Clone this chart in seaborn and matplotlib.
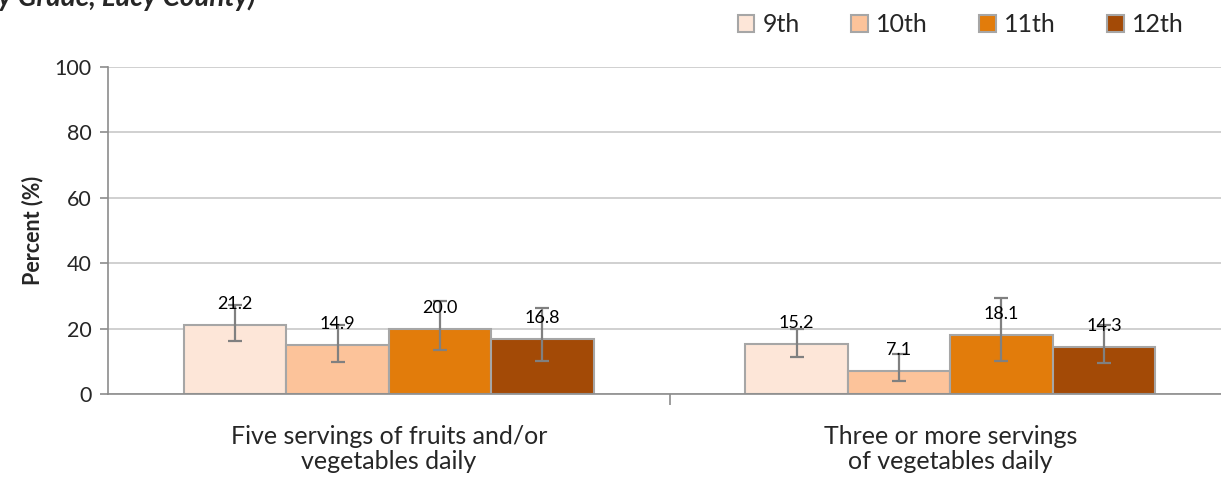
import numpy as np
import pandas as pd
import seaborn as sns
import matplotlib.pyplot as plt
from matplotlib.patches import Patch

# values
categories = ['Five servings of fruits and/or\nvegetables daily',
              'Three or more servings\nof vegetables daily']
grades = ['9th', '10th', '11th', '12th']
pct_five = [21.2, 14.9, 20.0, 16.8]
pct_three = [15.2, 7.1, 18.1, 14.3]
low_five = [16.1, 9.9, 13.4, 10.2]
high_five = [27.2, 21.1, 28.5, 26.2]
low_three = [11.3, 4.1, 10.2, 9.4]
high_three = [19.9, 12.1, 29.5, 21.1]
colors = ['#FDE6D8', '#FCC39A', '#E27C0B', '#A34A06']

df = pd.DataFrame({
    'category': np.repeat(categories, len(grades)),
    'grade': grades * 2,
    'pct': pct_five + pct_three,
    'low': low_five + low_three,
    'high': high_five + high_three,
})

sns.set_style('white')
plt.rcParams['font.family'] = ['Lato', 'DejaVu Sans']

fig = plt.figure(figsize=(12.21, 4.78), dpi=100)
ax = fig.add_axes([108 / 1221, 1 - 394 / 478, 1123 / 1221, (394 - 67) / 478])

sns.barplot(data=df, x='category', y='pct', hue='grade', hue_order=grades,
            palette=colors, saturation=1, width=0.73, errorbar=None,
            edgecolor='#A6A6A6', linewidth=1.5, ax=ax, legend=False, zorder=2)

# error bars and value labels, one container per grade
for cont, g in zip(ax.containers, grades):
    sub = df[df['grade'] == g]
    for bar, (_, row) in zip(cont, sub.iterrows()):
        xc = bar.get_x() + bar.get_width() / 2
        ax.errorbar(xc, row['pct'],
                    yerr=[[row['pct'] - row['low']], [row['high'] - row['pct']]],
                    fmt='none', ecolor='#808080', elinewidth=1.6, capsize=5,
                    capthick=1.6, zorder=3)
        ax.annotate(f"{row['pct']:.1f}", (xc, row['pct']), xytext=(0, 15),
                    textcoords='offset points', ha='center', va='center',
                    fontsize=13, color='black', zorder=4)

ax.set_ylim(0, 100)
ax.set_yticks(range(0, 101, 20))
ax.set_xlim(-0.5, 1.5)
ax.yaxis.grid(True, color='#C8C8C8', linewidth=1.2, zorder=0)
ax.set_axisbelow(True)
for s in ['top', 'right']:
    ax.spines[s].set_visible(False)
for s in ['left', 'bottom']:
    ax.spines[s].set_color('#8C8C8C')
    ax.spines[s].set_linewidth(1.2)

ax.tick_params(axis='y', left=True, length=6, color='#8C8C8C', width=1.2,
               labelsize=15.5, pad=6)
ax.tick_params(axis='x', bottom=False, labelsize=18, pad=19)
ax.set_xticks([0.5], minor=True)
ax.tick_params(axis='x', which='minor', bottom=True, length=8,
               color='#8C8C8C', width=1.2)
for lab in ax.get_xticklabels():
    lab.set_linespacing(1.1)

ax.set_xlabel('')
ax.set_ylabel('Percent (%)', fontsize=15.5, fontweight='bold', labelpad=8)

handles = [Patch(facecolor=c, edgecolor='#A6A6A6', linewidth=1.5) for c in colors]
fig.legend(handles, grades, loc='center', bbox_to_anchor=(0.787, 1 - 25 / 478),
           ncol=4, frameon=False, fontsize=18, handlelength=0.65,
           handleheight=0.65, handletextpad=0.35, columnspacing=2.05)

# title cut off at the top edge
fig.text(-2 / 1221, 1 - 6 / 478, 'y Grade, Lucy County)', fontsize=20,
         fontweight='bold', fontstyle='italic', va='baseline', ha='left')

fig.savefig('out.png', dpi=100)
